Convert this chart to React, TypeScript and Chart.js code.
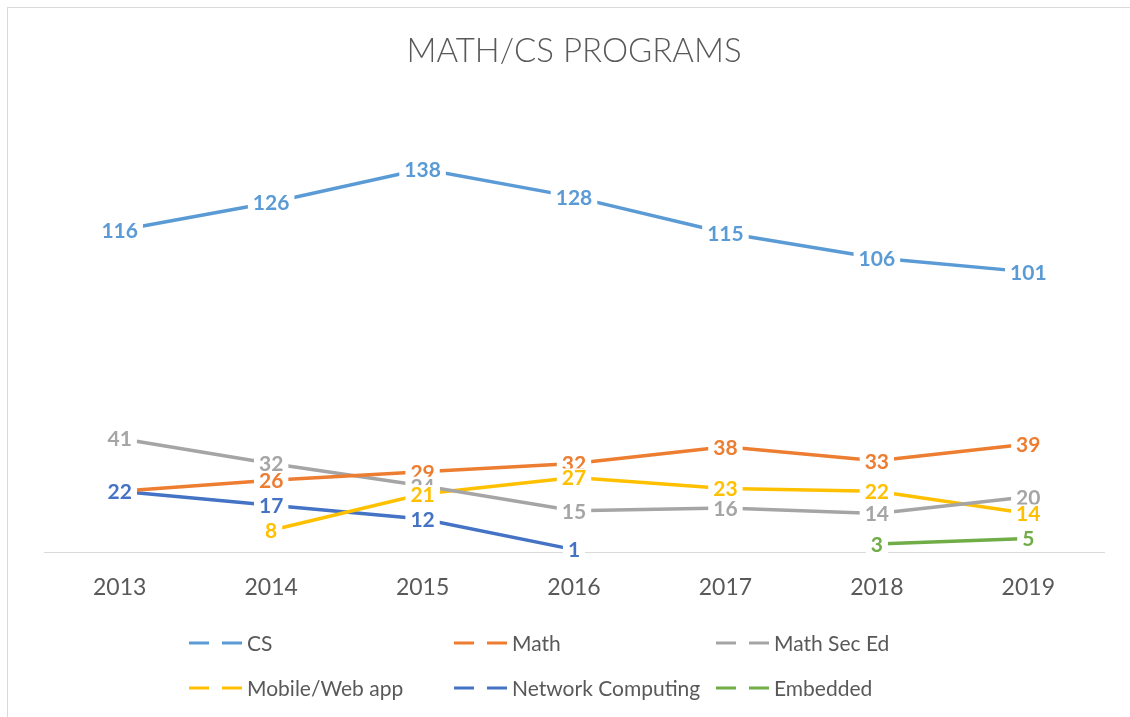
import { useEffect, useRef } from "react";
import { Chart, registerables } from "chart.js";

Chart.register(...registerables);

const years = ["2013", "2014", "2015", "2016", "2017", "2018", "2019"];
const cs = [116, 126, 138, 128, 115, 106, 101];
const math = [22, 26, 29, 32, 38, 33, 39];
const mathSecEd = [41, 32, 24, 15, 16, 14, 20];
const mobileWeb = [null, 8, 21, 27, 23, 22, 14];
const networkComputing = [22, 17, 12, 1, null, null, null];
const embedded = [null, null, null, null, null, 3, 5];

const seriesNames = ["CS", "Math", "Math Sec Ed", "Mobile/Web app", "Network Computing", "Embedded"];
const seriesValues = [cs, math, mathSecEd, mobileWeb, networkComputing, embedded];
const seriesColors = ["#5B9BD5", "#ED7D31", "#A5A5A5", "#FFC000", "#4472C4", "#70AD47"];

const TITLE = "MATH/CS PROGRAMS";
const TEXT = "#595959";
const FONT = "Lato, 'Open Sans', sans-serif";

const labelsPlugin = {
  id: "valueLabels",
  afterDatasetsDraw(chart: any) {
    const ctx = chart.ctx;
    ctx.save();
    ctx.font = `bold 21px ${FONT}`;
    ctx.textAlign = "center";
    ctx.textBaseline = "middle";
    chart.data.datasets.forEach((ds: any, di: number) => {
      const meta = chart.getDatasetMeta(di);
      meta.data.forEach((pt: any, i: number) => {
        const v = ds.data[i];
        if (v === null || v === undefined) return;
        const txt = String(v);
        const w = ctx.measureText(txt).width + 10;
        const h = 18;
        ctx.fillStyle = "#ffffff";
        ctx.fillRect(pt.x - w / 2, pt.y - h / 2, w, h);
        ctx.fillStyle = ds.borderColor;
        ctx.fillText(txt, pt.x, pt.y + 1);
      });
    });
    ctx.restore();
  },
};

const decorPlugin = {
  id: "decor",
  afterDraw(chart: any) {
    const ctx = chart.ctx;
    ctx.save();
    // title
    ctx.font = `300 33px ${FONT}`;
    ctx.fillStyle = TEXT;
    ctx.textAlign = "center";
    ctx.textBaseline = "middle";
    ctx.fillText(TITLE, 566, 43);
    // legend
    const colX = [181, 446, 708];
    const rowY = [635, 680];
    ctx.font = `21px ${FONT}`;
    ctx.textAlign = "left";
    seriesNames.forEach((name, i) => {
      const x = colX[i % 3];
      const y = rowY[Math.floor(i / 3)];
      ctx.strokeStyle = seriesColors[i];
      ctx.lineWidth = 3;
      ctx.beginPath();
      ctx.moveTo(x, y);
      ctx.lineTo(x + 20, y);
      ctx.moveTo(x + 33, y);
      ctx.lineTo(x + 53, y);
      ctx.stroke();
      ctx.fillStyle = TEXT;
      ctx.fillText(name, x + 58, y + 1);
    });
    ctx.restore();
  },
};

export default function App() {
  const ref = useRef<HTMLCanvasElement>(null);
  useEffect(() => {
    if (!ref.current) return;
    const chart = new Chart(ref.current, {
      type: "line",
      data: {
        labels: years,
        datasets: seriesNames.map((name, i) => ({
          label: name,
          data: seriesValues[i],
          borderColor: seriesColors[i],
          backgroundColor: seriesColors[i],
          borderWidth: 3.5,
          pointRadius: 0,
          pointHoverRadius: 0,
          tension: 0,
          spanGaps: false,
          fill: false,
        })),
      },
      options: {
        responsive: false,
        animation: false,
        layout: { padding: { top: 100, left: 36, right: 26, bottom: 95 } },
        plugins: {
          legend: { display: false },
          title: { display: false },
          tooltip: { enabled: false },
        },
        scales: {
          x: {
            offset: true,
            grid: { display: false, drawTicks: false },
            border: { display: true, color: "#d9d9d9", width: 1 },
            ticks: { color: TEXT, font: { family: FONT, size: 23 }, padding: 21 },
          },
          y: {
            display: false,
            min: 0,
            max: 160,
          },
        },
      },
      plugins: [labelsPlugin, decorPlugin],
    });
    return () => chart.destroy();
  }, []);
  return (
    <div
      style={{
        position: "fixed",
        left: 7,
        top: 7,
        width: 1140,
        height: 730,
        border: "1px solid #d9d9d9",
        background: "#fff",
      }}
    >
      <canvas ref={ref} width={1122} height={709} style={{ display: "block" }} />
    </div>
  );
}
